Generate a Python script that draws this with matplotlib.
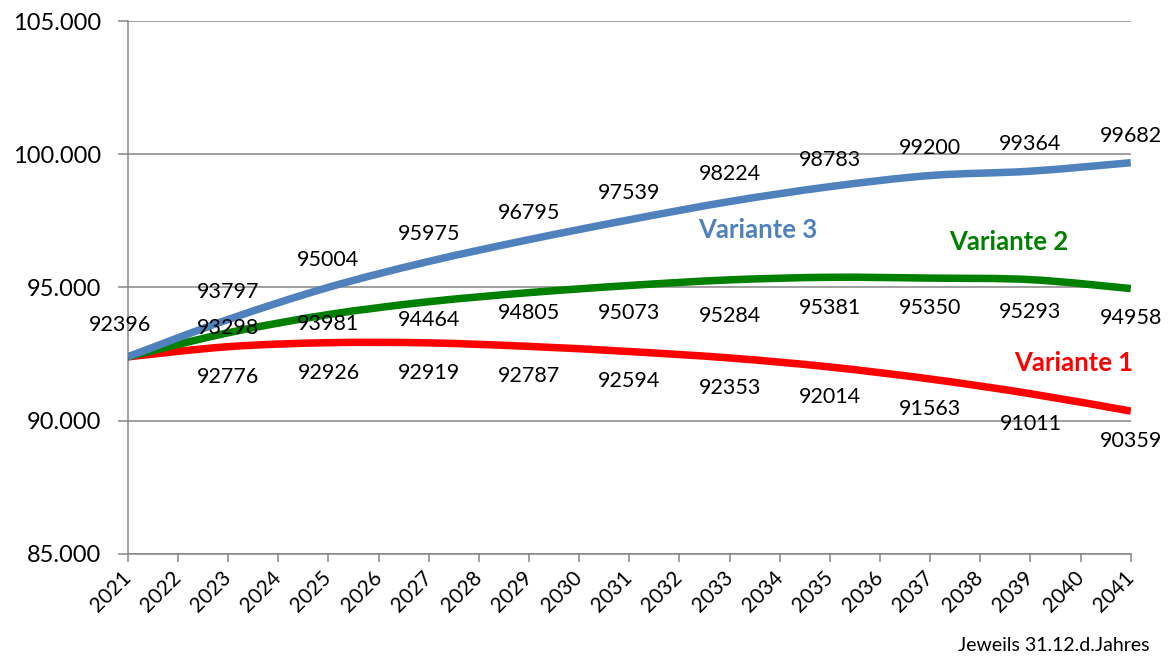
import numpy as np
import matplotlib.pyplot as plt
from matplotlib.path import Path
from matplotlib.patches import PathPatch
from matplotlib.ticker import FuncFormatter

plt.rcParams['font.family'] = ['Lato', 'DejaVu Sans']

years = [2021, 2023, 2025, 2027, 2029, 2031, 2033, 2035, 2037, 2039, 2041]
variante_1 = [92396, 92776, 92926, 92919, 92787, 92594, 92353, 92014, 91563, 91011, 90359]
variante_2 = [92396, 93298, 93981, 94464, 94805, 95073, 95284, 95381, 95350, 95293, 94958]
variante_3 = [92396, 93797, 95004, 95975, 96795, 97539, 98224, 98783, 99200, 99364, 99682]
tick_years = list(range(2021, 2042))

# label offsets (points, positive = above the line)
off_1 = [-21.5] * 11
off_2 = [0, 3.5, -7, -13, -14.5, -20, -26, -22, -21.5, -23.5, -21.5]
off_3 = [19.5] * 11


def smooth_path(x, y):
    # Excel-style smoothed line: cubic Bezier through the points
    pts = np.column_stack([x, y]).astype(float)
    n = len(pts)
    verts = [pts[0]]
    codes = [Path.MOVETO]
    for i in range(n - 1):
        p0 = pts[max(i - 1, 0)]
        p1 = pts[i]
        p2 = pts[i + 1]
        p3 = pts[min(i + 2, n - 1)]
        verts += [p1 + (p2 - p0) / 6, p2 - (p3 - p1) / 6, p2]
        codes += [Path.CURVE4] * 3
    return Path(verts, codes)


fig = plt.figure(figsize=(11.73, 6.57), dpi=100)
ax = fig.add_axes([0.109, 0.157, 0.855, 0.811])

series = [
    (variante_1, '#FF0000', off_1),
    (variante_2, '#008000', off_2),
    (variante_3, '#4F81BD', off_3),
]
for vals, col, offs in series:
    ax.add_patch(PathPatch(smooth_path(years, vals), fill=False, edgecolor=col,
                           lw=5.4, capstyle='butt', joinstyle='round', zorder=3))
    for x, v, o in zip(years[1:], vals[1:], offs[1:]):
        ax.annotate(str(v), (x, v), xytext=(0, o), textcoords='offset points',
                    ha='center', va='center', fontsize=15.5, color='black', zorder=4)

# shared start value
ax.annotate(str(variante_3[0]), (years[0], variante_3[0]), xytext=(-6, 23),
            textcoords='offset points', ha='center', va='center', fontsize=15.5,
            color='black', zorder=4)

ax.text(2033.56, 97158, 'Variante 3', color='#4F81BD', fontsize=18.5,
        fontweight='bold', ha='center', va='center')
ax.text(2038.57, 96707, 'Variante 2', color='#008000', fontsize=18.5,
        fontweight='bold', ha='center', va='center')
ax.text(2039.86, 92167, 'Variante 1', color='#FF0000', fontsize=18.5,
        fontweight='bold', ha='center', va='center')

ax.set_xlim(2021, 2041)
ax.set_ylim(85000, 105000)
ax.set_yticks(np.arange(85000, 105001, 5000))
ax.yaxis.set_major_formatter(FuncFormatter(lambda v, p: f'{int(v):,}'.replace(',', '.')))
ax.set_xticks(tick_years)
ax.set_xticklabels([str(y) for y in tick_years], rotation=45, ha='right',
                   va='center', rotation_mode='anchor')

ax.grid(axis='y', color='#868686', lw=1.1, zorder=1)
ax.set_axisbelow(True)
for s in ['top', 'right']:
    ax.spines[s].set_visible(False)
for s in ['left', 'bottom']:
    ax.spines[s].set_color('#868686')
    ax.spines[s].set_linewidth(1.1)

ax.tick_params(axis='y', length=7, width=1.1, color='#868686', labelsize=17, pad=12)
ax.tick_params(axis='x', length=6, width=1.1, color='#868686', labelsize=15, pad=9)

fig.text(0.98, 0.018, 'Jeweils 31.12.d.Jahres', ha='right', va='center', fontsize=14)

fig.savefig('out.png', dpi=100)
